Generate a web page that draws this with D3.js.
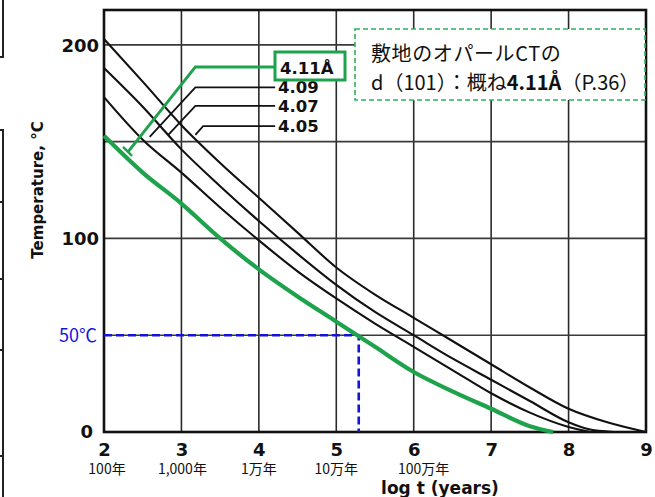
<!DOCTYPE html>
<html><head><meta charset="utf-8">
<script src="https://cdn.jsdelivr.net/npm/d3@7"></script>
<style>
html,body{margin:0;padding:0;background:#fff;}
svg{display:block;}
</style></head>
<body>
<svg id="chart" width="655" height="497"></svg>
<script>
// ---- data ----
const xTicks = [2, 3, 4, 5, 6, 7, 8, 9];
const yTickLabels = [0, 100, 200];
const yGrid = [50, 100, 150, 200];
const yearLabels = ["100年", "1,000年", "1万年", "10万年", "100万年"];
const yearLabelAt = [2, 3, 4, 5, 6];

// iso-d(101) curves, log t (years) vs Temperature °C
const x405 = [2, 2.5, 3, 3.5, 4, 4.5, 5, 5.5, 6, 6.5, 7, 7.5, 8, 8.5, 9];
const t405 = [203, 181, 158.5, 139, 121, 103, 85, 71, 59, 47, 35, 23, 12, 5, 0];
const x407 = [2, 2.5, 3, 3.5, 4, 4.5, 5, 5.5, 6, 6.5, 7, 7.5, 8, 8.25, 8.58];
const t407 = [188, 168, 146, 127, 109, 92, 76, 62, 50, 38, 27, 16, 5, 1.5, 0];
const x409 = [2, 2.5, 3, 3.5, 4, 4.5, 5, 5.5, 6, 6.5, 7, 7.5, 8, 8.28];
const t409 = [173, 151, 134, 116, 99, 83, 69, 56, 44, 32, 20, 10, 2.6, 0];
const x411 = [2, 2.5, 3, 3.5, 4, 4.5, 5, 5.5, 6, 6.5, 7, 7.5, 7.8];
const t411 = [153, 134, 118, 100, 84, 70, 57, 44, 31, 21, 12, 3, 0];

const curveLabels = ["4.09", "4.07", "4.05"];
const refTemp = 50;      // 50°C
const refLogT = 5.29;    // crossing of 4.11 curve

// ---- layout ----
const svg = d3.select("#chart");
const x = d3.scaleLinear().domain([2, 9]).range([104, 646]);
const y = d3.scaleLinear().domain([0, 218]).range([432, 10]);
const GREEN = "#1ea34c";
const INK = "#111";

// stray table border fragments at left edge
const edge = svg.append("g").attr("stroke", "#222").attr("stroke-width", 2).attr("fill", "none");
edge.append("path").attr("d", "M3,0 V57 H0");
edge.append("path").attr("d", "M3,497 V130 H0");
[202, 279, 350, 456].forEach(v => edge.append("line").attr("x1", 0).attr("x2", 3).attr("y1", v).attr("y2", v));

// grid
const grid = svg.append("g").attr("stroke", "#2a2a2a").attr("stroke-width", 1.6);
xTicks.slice(1, -1).forEach(v => grid.append("line")
  .attr("x1", x(v)).attr("x2", x(v)).attr("y1", y(218)).attr("y2", y(0)));
yGrid.forEach(v => grid.append("line")
  .attr("x1", x(2)).attr("x2", x(9)).attr("y1", y(v)).attr("y2", y(v)).attr("stroke", "#3a3a3a"));

// frame
svg.append("rect").attr("x", x(2)).attr("y", y(218)).attr("width", x(9) - x(2)).attr("height", y(0) - y(218))
  .attr("fill", "none").attr("stroke", INK).attr("stroke-width", 2.6);

// axes (labels only, via d3 axes)
const yAxis = svg.append("g").attr("transform", `translate(${x(2)},0)`)
  .call(d3.axisLeft(y).tickValues(yTickLabels).tickSize(0).tickPadding(5));
yAxis.select(".domain").remove();
yAxis.selectAll("text").attr("font-family", "DejaVu Sans").attr("font-weight", "bold")
  .attr("font-size", 18).attr("fill", INK).attr("dy", "0.35em");
yAxis.selectAll("text").filter(d => d === 0).attr("dx", -6).attr("dy", "0.3em");

const xAxis = svg.append("g").attr("transform", `translate(0,${y(0)})`)
  .call(d3.axisBottom(x).tickValues(xTicks).tickFormat(d3.format("d")).tickSize(0).tickPadding(11));
xAxis.select(".domain").remove();
xAxis.selectAll("text").attr("font-family", "DejaVu Sans").attr("font-weight", "bold")
  .attr("font-size", 18).attr("fill", INK);

// year sub-labels
const yearShift = [3, 1, 0, 0, 10];
svg.append("g").selectAll("text").data(yearLabels).join("text")
  .attr("x", (d, i) => x(yearLabelAt[i]) + yearShift[i]).attr("y", 474)
  .attr("text-anchor", "middle").attr("font-family", "Noto Sans CJK JP").attr("font-size", 14)
  .attr("fill", "#111").text(d => d);

// axis titles
svg.append("text").attr("x", 440).attr("y", 494).attr("text-anchor", "middle")
  .attr("font-family", "DejaVu Sans").attr("font-weight", "bold").attr("font-size", 17)
  .attr("fill", INK).text("log t (years)");
svg.append("text").attr("transform", "translate(43,190) rotate(-90)").attr("text-anchor", "middle")
  .attr("font-family", "DejaVu Sans").attr("font-weight", "bold").attr("font-size", 15)
  .attr("fill", INK).text("Temperature, °C");

// curves
const line = d3.line().x(d => x(d[0])).y(d => y(d[1])).curve(d3.curveMonotoneX);
const blackSeries = [[x405, t405], [x407, t407], [x409, t409]];
svg.append("g").selectAll("path").data(blackSeries).join("path")
  .attr("d", s => line(s[0].map((v, i) => [v, s[1][i]])))
  .attr("fill", "none").attr("stroke", INK).attr("stroke-width", 2.1);

// 50°C reference (blue dashed)
svg.append("path")
  .attr("d", `M${x(2)},${y(refTemp)} H${x(refLogT)} V${y(0)}`)
  .attr("fill", "none").attr("stroke", "#1414d8").attr("stroke-width", 2.6).attr("stroke-dasharray", "8,4");
svg.append("text").attr("x", 97).attr("y", y(refTemp)).attr("dy", "0.35em").attr("text-anchor", "end")
  .attr("font-family", "Noto Sans CJK JP").attr("font-size", 18).attr("fill", "#1414e0").text("50℃");

// green 4.11 curve
svg.append("path").attr("d", line(x411.map((v, i) => [v, t411[i]])))
  .attr("fill", "none").attr("stroke", GREEN).attr("stroke-width", 4.2);

// leader lines (data coords)
const leaders = [
  [[4.21, 178], [3.18, 178], [2.59, 152.5]],
  [[4.21, 168.5], [3.18, 168.5], [2.83, 153.5]],
  [[4.21, 158], [3.28, 158], [3.18, 153.5]]
];
const pl = d3.line().x(d => x(d[0])).y(d => y(d[1]));
svg.append("g").selectAll("path").data(leaders).join("path").attr("d", pl)
  .attr("fill", "none").attr("stroke", INK).attr("stroke-width", 1.8);
svg.append("g").selectAll("text").data(curveLabels).join("text")
  .attr("x", 278).attr("y", (d, i) => y(leaders[i][0][1])).attr("dy", "0.36em")
  .attr("font-family", "DejaVu Sans").attr("font-weight", "bold").attr("font-size", 16.5)
  .attr("fill", INK).text(d => d);

// green leader for 4.11
const gLeader = [[4.21, 188.6], [3.18, 188.6], [2.31, 144.7]];
svg.append("path").attr("d", pl(gLeader)).attr("fill", "none").attr("stroke", GREEN).attr("stroke-width", 3);
svg.append("line").attr("x1", x(2.31) - 5).attr("y1", y(144.7) - 5).attr("x2", x(2.31) + 4).attr("y2", y(144.7) + 4)
  .attr("stroke", GREEN).attr("stroke-width", 2.5);
svg.append("rect").attr("x", 275).attr("y", 52).attr("width", 70).attr("height", 28)
  .attr("fill", "#fff").attr("stroke", GREEN).attr("stroke-width", 3);
svg.append("text").attr("x", 280).attr("y", 68).attr("dy", "0.36em")
  .attr("font-family", "DejaVu Sans").attr("font-weight", "bold").attr("font-size", 16.5)
  .attr("fill", INK).text("4.11Å");

// annotation box
svg.append("rect").attr("x", 355).attr("y", 29).attr("width", 290).attr("height", 71)
  .attr("fill", "#fff").attr("stroke", "#2db35a").attr("stroke-width", 1.6).attr("stroke-dasharray", "5,3");
const ann = svg.append("g").attr("font-family", "Noto Sans CJK JP").attr("font-size", 20).attr("fill", "#111");
ann.append("text").attr("x", 371).attr("y", 61).attr("letter-spacing", 0.6).text("敷地のオパールCTの");
const l2 = ann.append("text").attr("x", 371).attr("y", 90);
l2.append("tspan").text("d（101）：概ね");
l2.append("tspan").attr("font-weight", "bold").text("4.11Å");
l2.append("tspan").text("（P.36）");
</script>
</body></html>
